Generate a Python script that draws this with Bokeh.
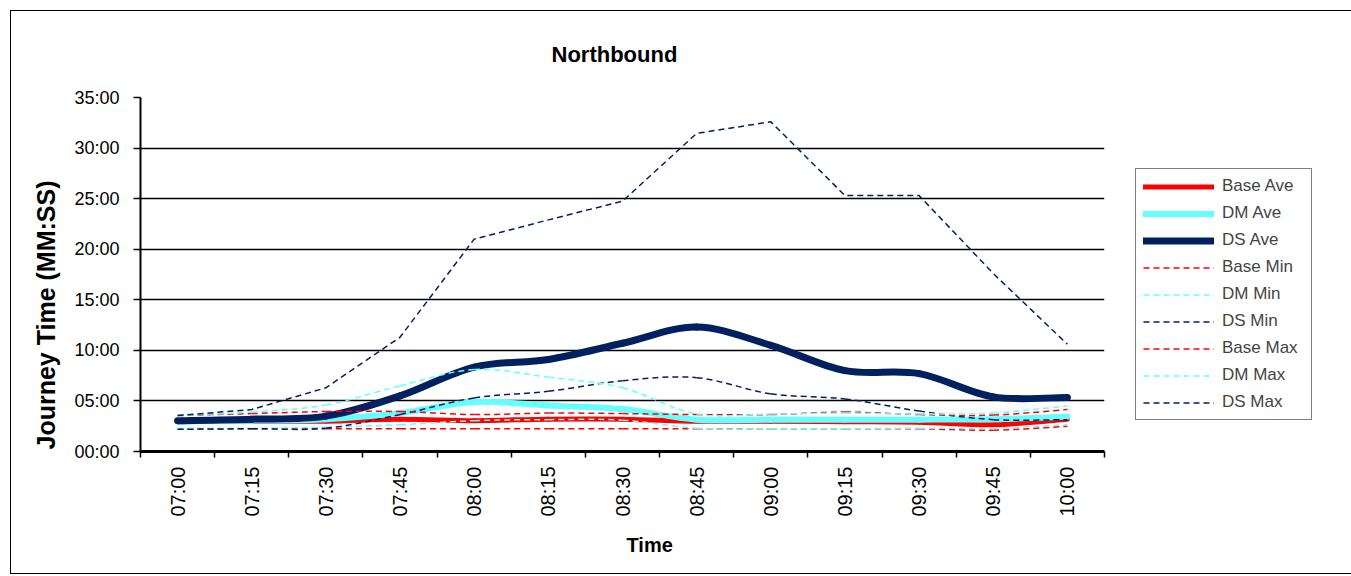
import numpy as np
from bokeh.plotting import figure
from bokeh.models import Range1d, FixedTicker, Legend, LegendItem, Title, ColumnDataSource
from bokeh.embed import file_html
from bokeh.resources import INLINE

# 15-minute departure slots
time_labels = ["07:00", "07:15", "07:30", "07:45", "08:00", "08:15", "08:30",
               "08:45", "09:00", "09:15", "09:30", "09:45", "10:00"]

# Journey time axis (minutes) and its MM:SS labels
y_tick_values = [0, 5, 10, 15, 20, 25, 30, 35]
y_tick_labels = ["00:00", "05:00", "10:00", "15:00", "20:00", "25:00", "30:00", "35:00"]

# Journey times in minutes for each scenario
base_ave = [2.95, 3.0, 3.0, 3.2, 3.05, 3.2, 3.2, 3.0, 3.0, 2.95, 2.9, 2.65, 3.2]
dm_ave = [3.0, 3.05, 3.2, 3.8, 4.9, 4.55, 4.2, 3.15, 3.15, 3.15, 3.15, 3.2, 3.45]
ds_ave = [3.05, 3.2, 3.5, 5.5, 8.35, 9.1, 10.7, 12.3, 10.5, 8.0, 7.7, 5.4, 5.35]
base_min = [2.2, 2.25, 2.25, 2.25, 2.25, 2.25, 2.25, 2.25, 2.25, 2.25, 2.25, 2.1, 2.5]
dm_min = [2.3, 2.3, 2.4, 2.65, 3.05, 3.15, 3.1, 2.3, 2.25, 2.25, 2.3, 2.3, 2.65]
ds_min = [2.2, 2.25, 2.3, 3.65, 5.3, 5.95, 7.0, 7.3, 5.7, 5.2, 4.0, 3.15, 3.15]
base_max = [3.55, 3.75, 3.95, 3.95, 3.65, 3.8, 3.75, 3.65, 3.65, 3.9, 3.65, 3.6, 4.15]
dm_max = [3.55, 3.9, 4.6, 6.5, 8.1, 7.35, 6.3, 3.7, 3.7, 3.8, 3.7, 3.8, 4.5]
ds_max = [3.55, 4.15, 6.3, 11.3, 21.0, 22.9, 24.75, 31.45, 32.6, 25.3, 25.3, 17.6, 10.6]

RED = "#FF0000"
CYAN = "#66FFFF"
NAVY = "#002060"
FONT = "Liberation Sans"

n = len(time_labels)
x_centers = np.arange(n) + 0.5             # each slot sits in the middle of its band
x_bounds = np.arange(n + 1).astype(float)  # tick marks between slots


def smooth_segments(xs, ys):
    """Cubic Bezier segments (Catmull-Rom style) through the data points."""
    xs = np.asarray(xs, float)
    ys = np.asarray(ys, float)
    xp = np.concatenate([[xs[0]], xs, [xs[-1]]])
    yp = np.concatenate([[ys[0]], ys, [ys[-1]]])
    m = len(xs)
    return ColumnDataSource(dict(
        x0=xs[:-1], y0=ys[:-1], x1=xs[1:], y1=ys[1:],
        cx0=xs[:-1] + (xp[2:m + 1] - xp[0:m - 1]) / 6.0,
        cy0=ys[:-1] + (yp[2:m + 1] - yp[0:m - 1]) / 6.0,
        cx1=xs[1:] - (xp[3:m + 2] - xp[1:m]) / 6.0,
        cy1=ys[1:] - (yp[3:m + 2] - yp[1:m]) / 6.0,
    ))


p = figure(frame_width=964, frame_height=354,
           x_range=Range1d(0, n), y_range=Range1d(0, 35),
           output_backend="svg", toolbar_location=None,
           min_border_left=129, min_border_right=237,
           min_border_top=86, min_border_bottom=122,
           margin=(10, 0, 0, 10), styles={"border": "1px solid black"},
           background_fill_color="white", border_fill_color="white",
           outline_line_color=None)

# chart title
p.title.text = "Northbound"
p.title.align = "left"
p.title.offset = 411
p.title.standoff = 58
p.title.vertical_align = "top"
p.title.text_font = FONT
p.title.text_font_style = "bold"
p.title.text_font_size = "22px"
p.title.text_color = "black"

# horizontal gridlines only
p.xgrid.grid_line_color = None
p.ygrid.grid_line_color = "black"
p.ygrid.grid_line_width = 1.5
p.ygrid.ticker = FixedTicker(ticks=y_tick_values)

# y axis
p.yaxis.ticker = FixedTicker(ticks=y_tick_values)
p.yaxis.major_label_overrides = {v: s for v, s in zip(y_tick_values, y_tick_labels)}
p.yaxis.axis_line_width = 2
p.yaxis.major_tick_out = 7
p.yaxis.major_tick_in = 0
p.yaxis.major_tick_line_width = 1.5
p.yaxis.minor_tick_line_color = None
p.yaxis.major_label_standoff = 14
p.yaxis.major_label_text_font = FONT
p.yaxis.major_label_text_font_size = "18px"
p.yaxis.major_label_text_color = "black"

# x axis: labels at slot centres, tick marks at slot boundaries
p.xaxis.ticker = FixedTicker(ticks=list(x_centers), minor_ticks=list(x_bounds))
p.xaxis.major_label_overrides = {float(c): t for c, t in zip(x_centers, time_labels)}
p.xaxis.major_label_orientation = np.pi / 2
p.xaxis.axis_line_width = 3
p.xaxis.major_tick_out = 0
p.xaxis.major_tick_in = 0
p.xaxis.major_tick_line_color = None
p.xaxis.minor_tick_out = 6
p.xaxis.minor_tick_in = 0
p.xaxis.minor_tick_line_color = "black"
p.xaxis.minor_tick_line_width = 1.5
p.xaxis.major_label_standoff = 9
p.xaxis.major_label_text_font = FONT
p.xaxis.major_label_text_font_size = "20px"
p.xaxis.major_label_text_color = "black"

# axis titles
p.add_layout(Title(text="Journey Time (MM:SS)", align="left", offset=2, standoff=23,
                   text_font=FONT, text_font_style="bold", text_font_size="25px",
                   text_color="black"), "left")
p.add_layout(Title(text="Time", align="left", offset=486, standoff=29,
                   vertical_align="top",
                   text_font=FONT, text_font_style="bold", text_font_size="20px",
                   text_color="black"), "below")

# series, drawn in legend order
series = [
    ("Base Ave", base_ave, RED, 5, "solid", True),
    ("DM Ave", dm_ave, CYAN, 6, "solid", True),
    ("DS Ave", ds_ave, NAVY, 7, "solid", True),
    ("Base Min", base_min, RED, 1.5, "6 4", True),
    ("DM Min", dm_min, CYAN, 1.5, "6 4", True),
    ("DS Min", ds_min, NAVY, 1.5, "6 4", True),
    ("Base Max", base_max, RED, 1.5, "6 4", True),
    ("DM Max", dm_max, CYAN, 1.5, "6 4", True),
    ("DS Max", ds_max, NAVY, 1.5, "6 4", False),
]

items = []
for name, vals, color, width, dash, smooth in series:
    if smooth:
        r = p.bezier(x0="x0", y0="y0", x1="x1", y1="y1",
                     cx0="cx0", cy0="cy0", cx1="cx1", cy1="cy1",
                     source=smooth_segments(x_centers, vals),
                     line_color=color, line_width=width, line_dash=dash,
                     line_cap="round" if dash == "solid" else "butt")
    else:
        r = p.line(x_centers, vals, line_color=color, line_width=width,
                   line_dash=dash, line_join="miter")
    items.append(LegendItem(label=name, renderers=[r]))

legend = Legend(items=items, location="bottom_left", margin=31,
                glyph_width=71, glyph_height=19, label_height=19,
                spacing=7, padding=7, label_standoff=8, label_width=82,
                label_text_font=FONT, label_text_font_size="17px",
                border_line_color="black", border_line_width=1,
                background_fill_color="white", background_fill_alpha=1.0)
p.add_layout(legend, "right")

open("out.html", "w").write(file_html(p, INLINE))
